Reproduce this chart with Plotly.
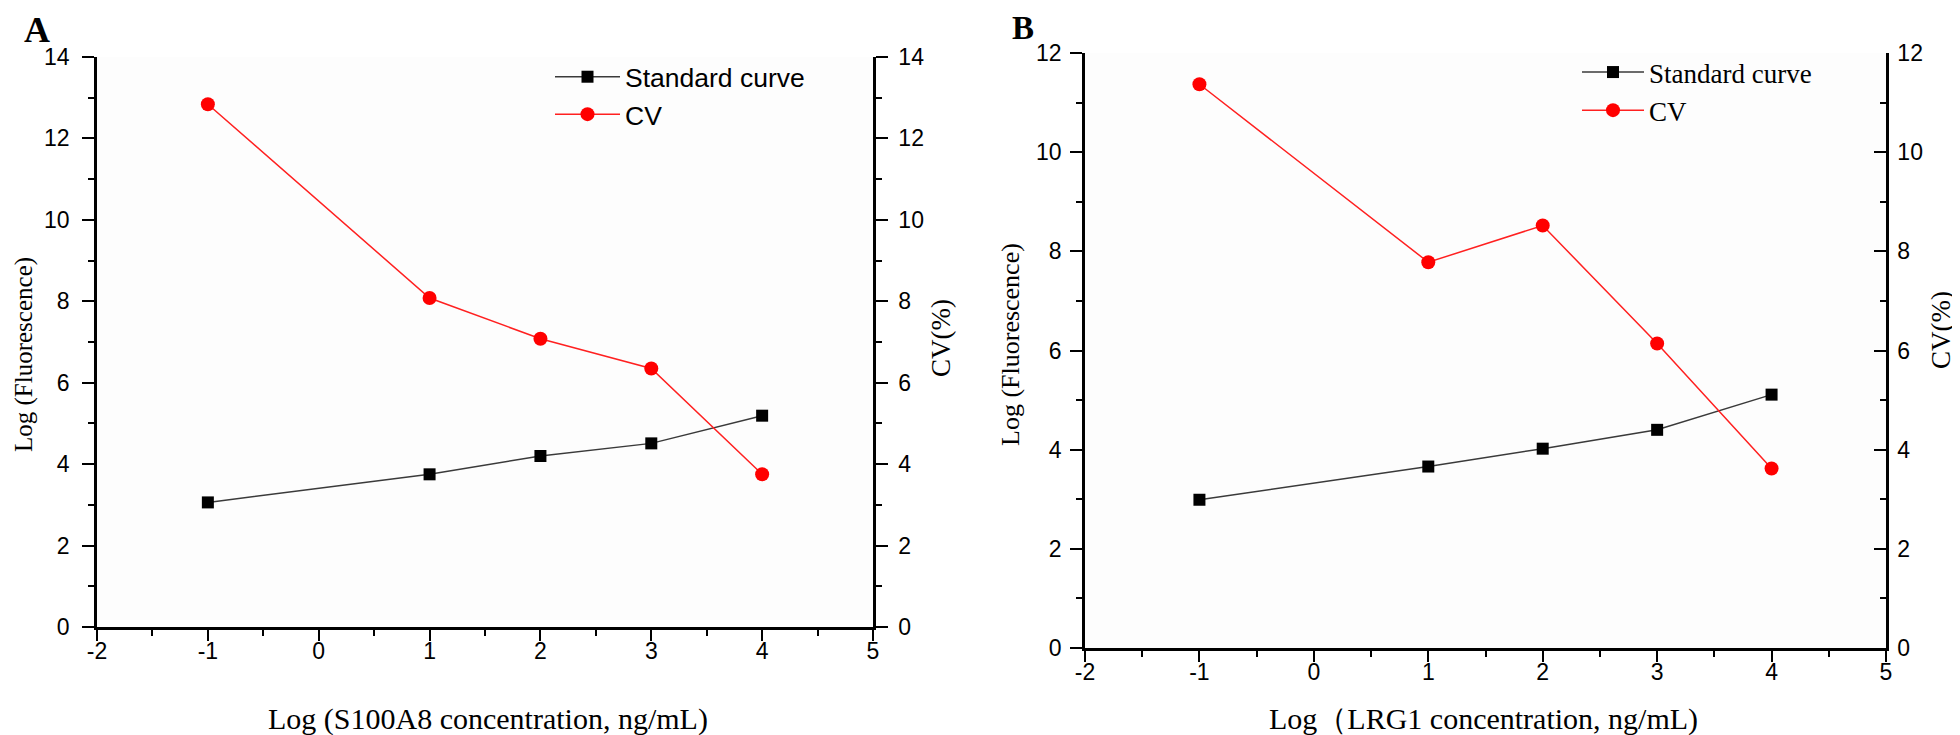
import plotly.graph_objects as go

# ---- data ----
log_conc = [-1, 1, 2, 3, 4]
a_standard = [3.06, 3.75, 4.20, 4.51, 5.19]
a_cv = [12.84, 8.08, 7.08, 6.35, 3.75]
b_standard = [2.99, 3.66, 4.02, 4.40, 5.11]
b_cv = [11.37, 7.78, 8.52, 6.14, 3.62]

x_ticks = [-2, -1, 0, 1, 2, 3, 4, 5]
x_tick_text = ["-2", "-1", "0", "1", "2", "3", "4", "5"]

# the page body has an 8px margin: the figure starts at (8, 8) and fills the rest
OFF = 8
W, H = 1960 - OFF, 735 - OFF


def px(x):
    return (x - OFF) / W


def py(y):
    return 1 - (y - OFF) / H


SANS = "Liberation Sans, Arial, sans-serif"
SERIF = "Liberation Serif, Times New Roman, serif"

fig = go.Figure()

# Panel A
fig.add_trace(go.Scatter(
    x=log_conc, y=a_standard, name="Standard curve", mode="lines+markers",
    marker=dict(symbol="square", size=12, color="black"),
    line=dict(color="#3a3a3a", width=1.5), xaxis="x", yaxis="y", legend="legend"))
fig.add_trace(go.Scatter(
    x=log_conc, y=a_cv, name="CV", mode="lines+markers",
    marker=dict(symbol="circle", size=14, color="#ff0000"),
    line=dict(color="#ff2020", width=1.5), xaxis="x", yaxis="y2", legend="legend"))

# Panel B
fig.add_trace(go.Scatter(
    x=log_conc, y=b_standard, name="Standard curve", mode="lines+markers",
    marker=dict(symbol="square", size=12, color="black"),
    line=dict(color="#3a3a3a", width=1.5), xaxis="x2", yaxis="y3", legend="legend2"))
fig.add_trace(go.Scatter(
    x=log_conc, y=b_cv, name="CV", mode="lines+markers",
    marker=dict(symbol="circle", size=14, color="#ff0000"),
    line=dict(color="#ff2020", width=1.5), xaxis="x2", yaxis="y4", legend="legend2"))

tickfont = dict(family=SANS, size=23, color="black")


def xax(domain, anchor):
    return dict(domain=domain, anchor=anchor, range=[-2, 5],
                tickmode="array", tickvals=x_ticks, ticktext=x_tick_text,
                showline=True, linewidth=2.5, linecolor="black", showgrid=False,
                zeroline=False, ticks="outside", ticklen=11, tickwidth=2, tickcolor="black",
                minor=dict(dtick=0.5, tick0=0, ticks="outside", ticklen=6, tickwidth=2,
                           tickcolor="black", showgrid=False),
                ticklabelstandoff=-9, automargin=False,
                tickfont=tickfont, fixedrange=True)


def yax(domain, anchor, top, side="left", overlaying=None, ticks="outside", standoff=6):
    d = dict(domain=domain, anchor=anchor, range=[0, top], dtick=2, tick0=0,
             showline=True, linewidth=2.5, linecolor="black", showgrid=False,
             zeroline=False, ticks=ticks, ticklen=12, tickwidth=2, tickcolor="black",
             minor=dict(dtick=1, tick0=0, ticks=ticks, ticklen=6, tickwidth=2,
                        tickcolor="black", showgrid=False),
             ticklabelstandoff=standoff, automargin=False,
             tickfont=tickfont, side=side, fixedrange=True)
    if overlaying:
        d["overlaying"] = overlaying
    return d


a_x = [px(97), px(873)]
a_y = [py(627), py(57)]
b_x = [px(1085), px(1886)]
b_y = [py(648), py(53)]

fig.update_layout(
    width=W, height=H,
    margin=dict(l=0, r=0, t=0, b=0, pad=0, autoexpand=False),
    paper_bgcolor="white", plot_bgcolor="#fdfdfd",
    xaxis=xax(a_x, "y"),
    yaxis=yax(a_y, "x", 14, standoff=8),
    yaxis2=yax(a_y, "x", 14, side="right", overlaying="y", standoff=6),
    xaxis2=xax(b_x, "y3"),
    yaxis3=yax(b_y, "x2", 12, standoff=4),
    yaxis4=yax(b_y, "x2", 12, side="right", overlaying="y3", ticks="inside", standoff=4),
    legend=dict(x=px(550), xanchor="left", y=py(53), yanchor="top",
                bgcolor="rgba(0,0,0,0)", itemwidth=65, tracegroupgap=0,
                font=dict(family=SANS, size=26.5, color="black")),
    legend2=dict(x=px(1577), xanchor="left", y=py(48), yanchor="top",
                 bgcolor="rgba(0,0,0,0)", itemwidth=62, tracegroupgap=0,
                 font=dict(family=SERIF, size=27, color="black")),
    showlegend=True,
)


def note(text, x, y, size, angle=0, bold=False, yanchor="middle"):
    return dict(text=f"<b>{text}</b>" if bold else text, x=px(x), y=py(y),
                xref="paper", yref="paper", xanchor="center", yanchor=yanchor,
                showarrow=False, textangle=angle,
                font=dict(family=SERIF, size=size, color="black"))


ann = [
    note("A", 37, 8.5, 36, bold=True, yanchor="top"),
    note("B", 1023, 8.5, 33, bold=True, yanchor="top"),
    note("Log (S100A8 concentration, ng/mL)", 488, 719, 30),
    note("Log（LRG1 concentration, ng/mL)", 1483, 719, 30),
    note("Log (Fluorescence)", 24, 355, 25, angle=-90),
    note("CV(%)", 941, 338, 27, angle=-90),
    note("Log (Fluorescence)", 1011, 345, 26, angle=-90),
    note("CV(%)", 1941, 330, 27, angle=-90),
]
fig.update_layout(annotations=ann)

fig.write_html("out.html")
